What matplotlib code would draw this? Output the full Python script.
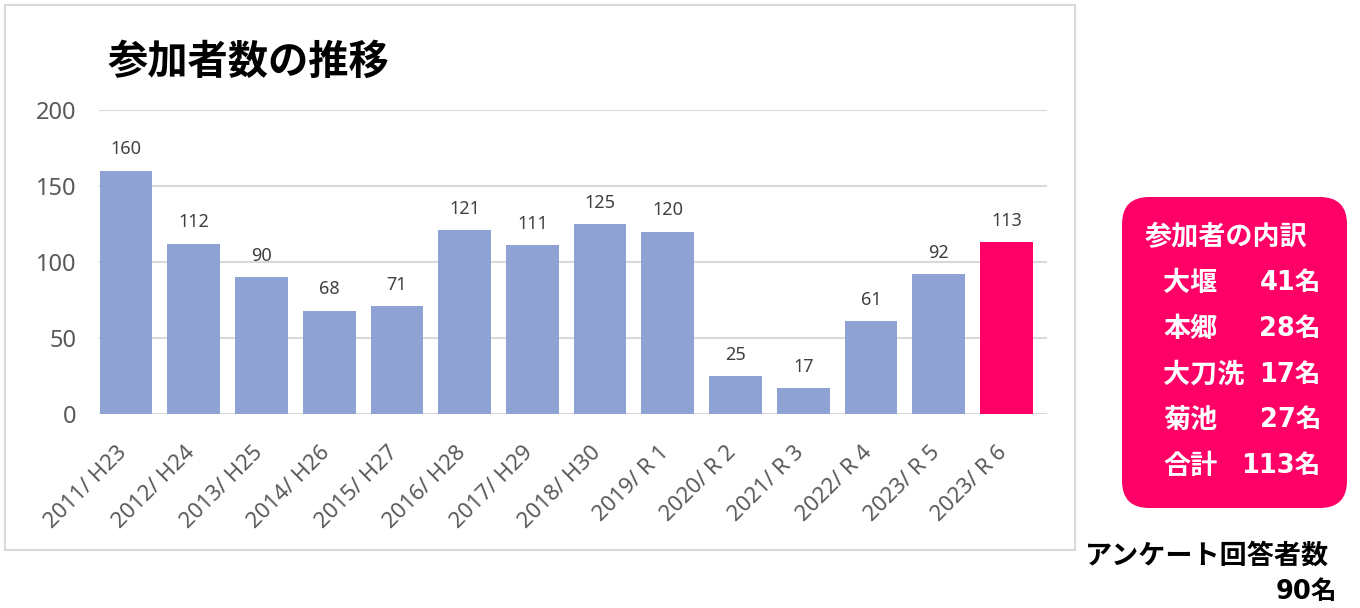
import matplotlib
matplotlib.use("Agg")
import matplotlib.pyplot as plt
import matplotlib.transforms as mtransforms
from matplotlib.patches import Rectangle, FancyBboxPatch

plt.rcParams['font.family'] = ['Noto Sans CJK JP', 'DejaVu Sans']

# data
years = ["2011/ H23", "2012/ H24", "2013/ H25", "2014/ H26", "2015/ H27",
         "2016/ H28", "2017/ H29", "2018/ H30", "2019/ R 1", "2020/ R 2",
         "2021/ R 3", "2022/ R 4", "2023/ R 5", "2023/ R 6"]
participants = [160, 112, 90, 68, 71, 121, 111, 125, 120, 25, 17, 61, 92, 113]

breakdown_places = ["大堰", "本郷", "大刀洗", "菊池", "合計"]
breakdown_counts = ["41名", "28名", "17名", "27名", "113名"]

survey_label = "アンケート回答者数"
survey_count = "90名"

blue = "#8FA2D4"
pink = "#FF0066"
grid_col = "#D9D9D9"
tick_col = "#595959"
num_font = ['DejaVu Sans', 'Noto Sans CJK JP']
latin_font = ['Noto Sans', 'DejaVu Sans']

W, H = 1360, 608
fig = plt.figure(figsize=(W / 100, H / 100), dpi=100)

# outer chart frame
fig.patches.append(Rectangle((5 / W, 1 - 550 / H), 1070 / W, 545 / H,
                             transform=fig.transFigure, fill=False,
                             edgecolor=grid_col, linewidth=1.5))

ax = fig.add_axes([99 / W, 1 - 414 / H, 948 / W, 304 / H])
x = range(len(years))
colors = [blue] * (len(years) - 1) + [pink]
ax.bar(x, participants, width=0.78, color=colors, zorder=3)

for xi, v in zip(x, participants):
    ax.annotate(str(v), (xi, v), xytext=(0, 9), textcoords="offset points",
                ha="center", va="bottom", fontsize=13, color="#404040",
                family=latin_font)

ax.set_xlim(-0.40, 13.6)
ax.set_ylim(0, 200)
ax.set_yticks([0, 50, 100, 150, 200])
ax.yaxis.grid(True, color=grid_col, linewidth=1.5, zorder=0)
ax.set_axisbelow(True)
for s in ax.spines.values():
    s.set_visible(False)
ax.tick_params(axis="y", length=0, pad=16, labelsize=17, labelcolor=tick_col)
ax.tick_params(axis="x", length=0, pad=20, labelsize=16, labelcolor=tick_col)
ax.set_xticks(list(x))
ax.set_xticklabels(years, rotation=45, ha="right", va="top",
                   rotation_mode="anchor")
shift = mtransforms.ScaledTranslation(-7 / 72, 0, fig.dpi_scale_trans)
for lab in ax.get_xticklabels():
    lab.set_family(latin_font)
    lab.set_transform(lab.get_transform() + shift)
for lab in ax.get_yticklabels():
    lab.set_family(latin_font)

fig.text(108 / W, 1 - 62 / H, "参加者数の推移", fontsize=29, fontweight="bold",
         ha="left", va="center", color="black")

# breakdown box
fig.patches.append(FancyBboxPatch((1122 / W, 1 - 508 / H), 225 / W, 311 / H,
                                  boxstyle="round,pad=0,rounding_size=0.02",
                                  transform=fig.transFigure, facecolor=pink,
                                  edgecolor="none", mutation_aspect=W / H))
fig.text(1145 / W, 1 - 237 / H, "参加者の内訳", fontsize=19.5, fontweight="bold",
         color="white", ha="left", va="center")
for i, (p, c) in enumerate(zip(breakdown_places, breakdown_counts)):
    yy = 1 - (283 + i * 45.8) / H
    fig.text(1163 / W, yy, p, fontsize=19.5, fontweight="bold", color="white",
             ha="left", va="center")
    fig.text(1321 / W, yy, c, fontsize=18.5, fontweight="bold", color="white",
             ha="right", va="center", family=num_font)

fig.text(1085 / W, 1 - 556 / H, survey_label, fontsize=19.5, fontweight="bold",
         color="black", ha="left", va="center")
fig.text(1337 / W, 1 - 592 / H, survey_count, fontsize=18.5, fontweight="bold",
         color="black", ha="right", va="center", family=num_font)

fig.savefig("out.png", dpi=100, facecolor="white")
